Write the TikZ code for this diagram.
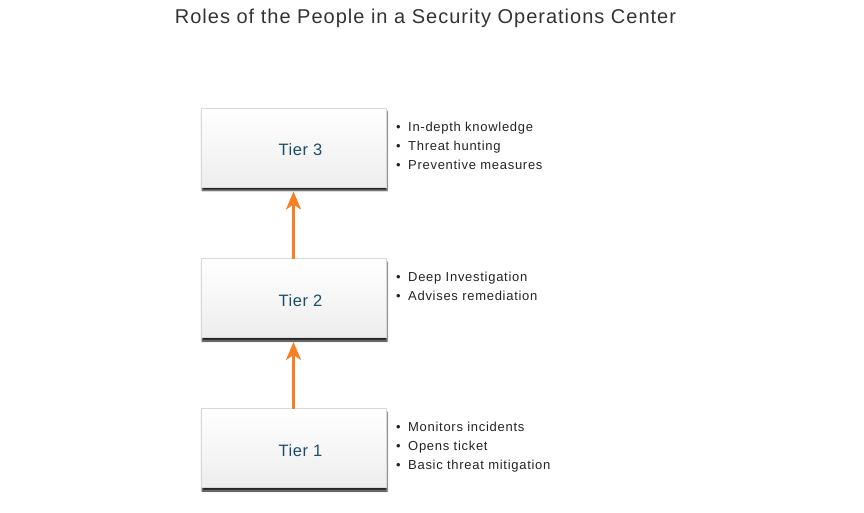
\documentclass[tikz,border=0pt]{standalone}
\usepackage{fontspec}
\setmainfont{Liberation Sans}
\usetikzlibrary{shadows,shadows.blur,arrows.meta}
\definecolor{tiertext}{RGB}{28,78,108}
\definecolor{arroworange}{RGB}{245,128,38}
\definecolor{txt}{RGB}{35,35,35}
\tikzset{
  x=1pt, y=-1pt,
  tierbox/.style={rectangle, minimum width=185pt, minimum height=79pt,
    top color=white, bottom color=black!7, draw=black!15, line width=0.6pt,
    blur shadow={shadow xshift=1pt, shadow yshift=-3.5pt, shadow blur steps=4,
      shadow blur radius=1.5pt, shadow opacity=85, shadow blur extra rounding=0pt}},
  tierlabel/.style={anchor=base, text=tiertext, font=\fontsize{16.5}{18}\selectfont\addfontfeatures{LetterSpace=3}},
  bulletline/.style={anchor=base west, inner sep=0pt, text=txt,
    font=\fontsize{13}{19}\selectfont\addfontfeatures{LetterSpace=5.5}},
  uparrow/.style={draw=arroworange, line width=3pt, -{Stealth[length=18pt, width=15pt, inset=5pt]}}
}
\newcommand{\blt}{\makebox[12pt][l]{\fontsize{13}{13}\selectfont•}}
\begin{document}
\begin{tikzpicture}
\useasboundingbox (0,0) rectangle (864,513);
\node[anchor=base, text=black!80, font=\fontsize{20}{22}\selectfont\addfontfeatures{LetterSpace=5}] (title) at (425.5,24) {Roles of the People in a Security Operations Center};

\node[tierbox] (t3) at (293.5,147.5) {};
\node[tierbox] (t2) at (293.5,298) {};
\node[tierbox] (t1) at (293.5,448) {};

\node[tierlabel] (l3) at (300.5,156) {Tier 3};
\node[tierlabel] (l2) at (300.5,306.5) {Tier 2};
\node[tierlabel] (l1) at (300.5,456.5) {Tier 1};

\coordinate (a1s) at (293.5,408.5);
\coordinate (a1e) at (293.5,342);
\coordinate (a2s) at (293.5,258.5);
\coordinate (a2e) at (293.5,191.5);
\draw[uparrow] (a1s) -- (a1e);
\draw[uparrow] (a2s) -- (a2e);

\node[bulletline] (b31) at (396,131.5) {\blt In-depth knowledge};
\node[bulletline] (b32) at (396,150.5) {\blt Threat hunting};
\node[bulletline] (b33) at (396,169.5) {\blt Preventive measures};

\node[bulletline] (b21) at (396,281.5) {\blt Deep Investigation};
\node[bulletline] (b22) at (396,300.5) {\blt Advises remediation};

\node[bulletline] (b11) at (396,431.5) {\blt Monitors incidents};
\node[bulletline] (b12) at (396,450.5) {\blt Opens ticket};
\node[bulletline] (b13) at (396,469.5) {\blt Basic threat mitigation};
\end{tikzpicture}
\end{document}
